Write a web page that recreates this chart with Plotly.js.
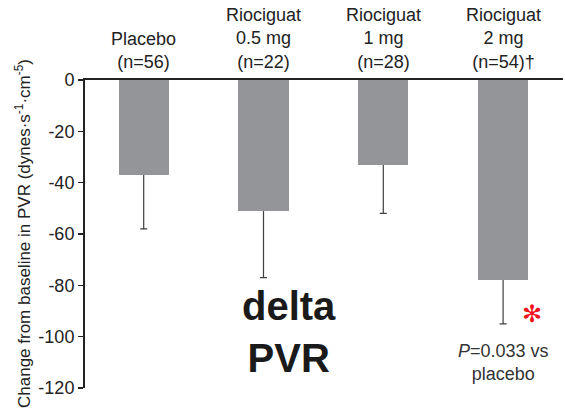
<!DOCTYPE html>
<html>
<head>
<meta charset="utf-8">
<script src="https://cdn.plot.ly/plotly-3.0.1.min.js"></script>
<style>
  html, body { margin: 0; padding: 0; background: #fff; }
  #chart { width: 565px; height: 410px; }
</style>
</head>
<body>
<div id="chart"></div>
<script>
// Change from baseline in PVR by treatment group (mean, lower SE)
const groups = ['Placebo', 'Riociguat 0.5 mg', 'Riociguat 1 mg', 'Riociguat 2 mg'];
const groupLabels = ['Placebo<br>(n=56)', 'Riociguat<br>0.5 mg<br>(n=22)', 'Riociguat<br>1 mg<br>(n=28)', 'Riociguat<br>2 mg<br>(n=54)†'];
const changePVR = [-37, -51, -33, -78];
const errLower = [21, 26, 19, 17];
const yTicks = [0, -20, -40, -60, -80, -100, -120];

const FONT = 'Arial, Liberation Sans, Helvetica, sans-serif';
const yRange = [-120, 0];

// Whiskers run from zero down to (mean - SE); the upper part is hidden behind the bars,
// which live on an overlaid axis drawn above this one.
const whiskers = {
  type: 'scatter',
  x: groups,
  y: changePVR,
  mode: 'markers',
  marker: { opacity: 0, size: 1 },
  hoverinfo: 'skip',
  showlegend: false,
  error_y: {
    type: 'data',
    symmetric: false,
    array: changePVR.map(v => -v),
    arrayminus: errLower,
    color: '#3f3f3f',
    thickness: 1.2,
    width: 3.5
  },
  xaxis: 'x',
  yaxis: 'y'
};

const bars = {
  type: 'bar',
  x: groups,
  y: changePVR,
  width: 0.42,
  marker: { color: '#939598', line: { width: 0 } },
  showlegend: false,
  xaxis: 'x',
  yaxis: 'y2'
};

const annotations = groups.map((g, i) => ({
  x: g, xref: 'x',
  y: 1, yref: 'paper',
  yanchor: 'bottom', xanchor: 'center',
  yshift: 6,
  text: groupLabels[i],
  showarrow: false,
  align: 'center',
  font: { family: FONT, size: 18, color: '#222' }
}));

annotations.push(
  {
    x: 0, xref: 'paper', xanchor: 'center', xshift: -62,
    y: 0.5, yref: 'paper', yanchor: 'middle',
    textangle: -90,
    text: 'Change from baseline in PVR (dynes·s<sup>-1</sup>·cm<sup>-5</sup>)',
    showarrow: false,
    font: { family: FONT, size: 17, color: '#222' }
  },
  {
    x: 1.21, xref: 'x', y: -98, yref: 'y',
    xanchor: 'center', yanchor: 'middle',
    text: '<b>delta<br>PVR</b>',
    showarrow: false, align: 'center',
    font: { family: FONT, size: 40, color: '#1a1a1a' }
  },
  {
    x: 3.24, xref: 'x', y: -91, yref: 'y',
    xanchor: 'center', yanchor: 'middle',
    text: '✻',
    showarrow: false,
    font: { family: 'DejaVu Sans', size: 24, color: '#f0141b' }
  },
  {
    x: groups[3], xref: 'x', y: -110, yref: 'y',
    xanchor: 'center', yanchor: 'middle',
    text: '<i>P</i>=0.033 vs<br>placebo',
    showarrow: false, align: 'center',
    font: { family: FONT, size: 18, color: '#333' }
  }
);

const layout = {
  width: 565,
  height: 410,
  margin: { l: 85, r: 2, t: 80, b: 22, pad: 0 },
  paper_bgcolor: '#fff',
  plot_bgcolor: '#fff',
  showlegend: false,
  bargap: 0,
  xaxis: {
    type: 'category',
    range: [-0.49, 3.5],
    side: 'top',
    showline: true,
    linecolor: '#222',
    linewidth: 1.8,
    showticklabels: false,
    ticks: '',
    showgrid: false,
    zeroline: false,
    fixedrange: true
  },
  yaxis: {
    range: yRange,
    tickvals: yTicks,
    ticktext: yTicks.map(String),
    ticks: 'outside',
    ticklen: 5,
    tickwidth: 1.5,
    tickcolor: '#222',
    showline: true,
    linecolor: '#222',
    linewidth: 2,
    showgrid: false,
    zeroline: false,
    tickfont: { family: FONT, size: 18, color: '#222' },
    fixedrange: true
  },
  yaxis2: {
    range: yRange,
    overlaying: 'y',
    visible: false,
    showgrid: false,
    zeroline: false,
    fixedrange: true
  },
  annotations: annotations
};

Plotly.newPlot('chart', [whiskers, bars], layout, { displayModeBar: false, staticPlot: true });
</script>
</body>
</html>
